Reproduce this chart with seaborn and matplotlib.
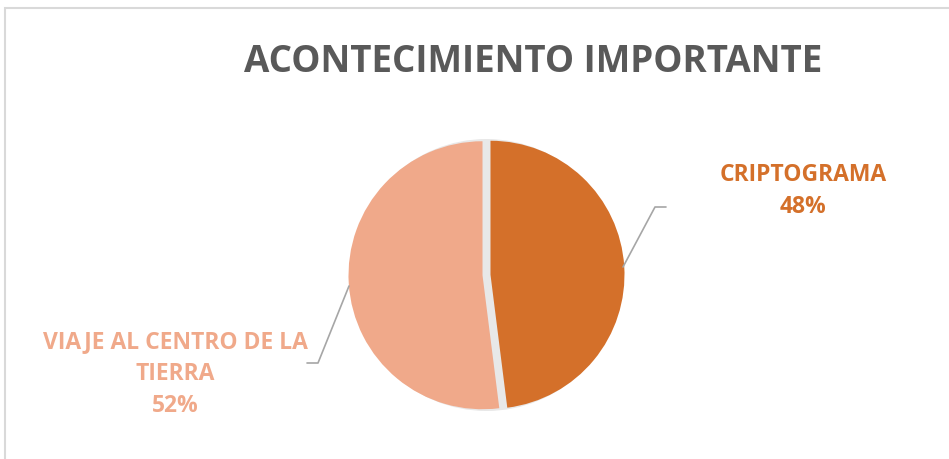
import matplotlib
matplotlib.use("Agg")
import matplotlib.pyplot as plt
import seaborn as sns
from matplotlib.patches import Rectangle, Circle

categories = ["CRIPTOGRAMA", "VIAJE AL CENTRO DE LA\nTIERRA"]
values = [48, 52]
colors = ["#D4702A", "#F0A98A"]
title = "ACONTECIMIENTO IMPORTANTE"

sns.set_theme(style="white")
plt.rcParams['font.family'] = ['Open Sans', 'DejaVu Sans']

W, H = 949, 460
fig = plt.figure(figsize=(W / 100, H / 100), dpi=100)
ax = fig.add_axes([0, 0, 1, 1])

def Y(y):
    return H - y

cx, cy, r = 486.5, 276, 134

# soft shadow behind pie
ax.add_patch(Circle((cx, Y(cy)), r + 2, facecolor="#E8E8E8", edgecolor="none", zorder=0))

wedges, _ = ax.pie(values, colors=colors, startangle=90, counterclock=False,
                   explode=[4, 4], radius=r, center=(cx, Y(cy)),
                   wedgeprops=dict(linewidth=0), frame=True)
for w in wedges:
    w.set_zorder(2)

ax.set_xlim(0, W)
ax.set_ylim(0, H)
ax.set_aspect("auto")
ax.axis("off")

# chart border
ax.add_patch(Rectangle((5, Y(462)), W, 462 - 9, facecolor="none",
                       edgecolor="#D9D9D9", linewidth=1.5, zorder=1))

ax.text(533, Y(62), title, ha="center", va="center", fontsize=26.5,
        fontweight="bold", color="#595959")

# leader lines
ax.plot([623, 655, 666], [Y(268), Y(208), Y(208)], color="#A6A6A6", lw=1.2, zorder=3)
ax.plot([349, 318, 307], [Y(287), Y(364), Y(364)], color="#A6A6A6", lw=1.2, zorder=3)

total = sum(values)
ax.text(803, Y(191), f"{categories[0]}\n{values[0] * 100 / total:.0f}%", ha="center",
        va="center", fontsize=16.5, fontweight="bold", color=colors[0], linespacing=1.45)
ax.text(175, Y(374), f"{categories[1]}\n{values[1] * 100 / total:.0f}%", ha="center",
        va="center", fontsize=16.5, fontweight="bold", color=colors[1], linespacing=1.45)

fig.savefig("out.png", dpi=100)
